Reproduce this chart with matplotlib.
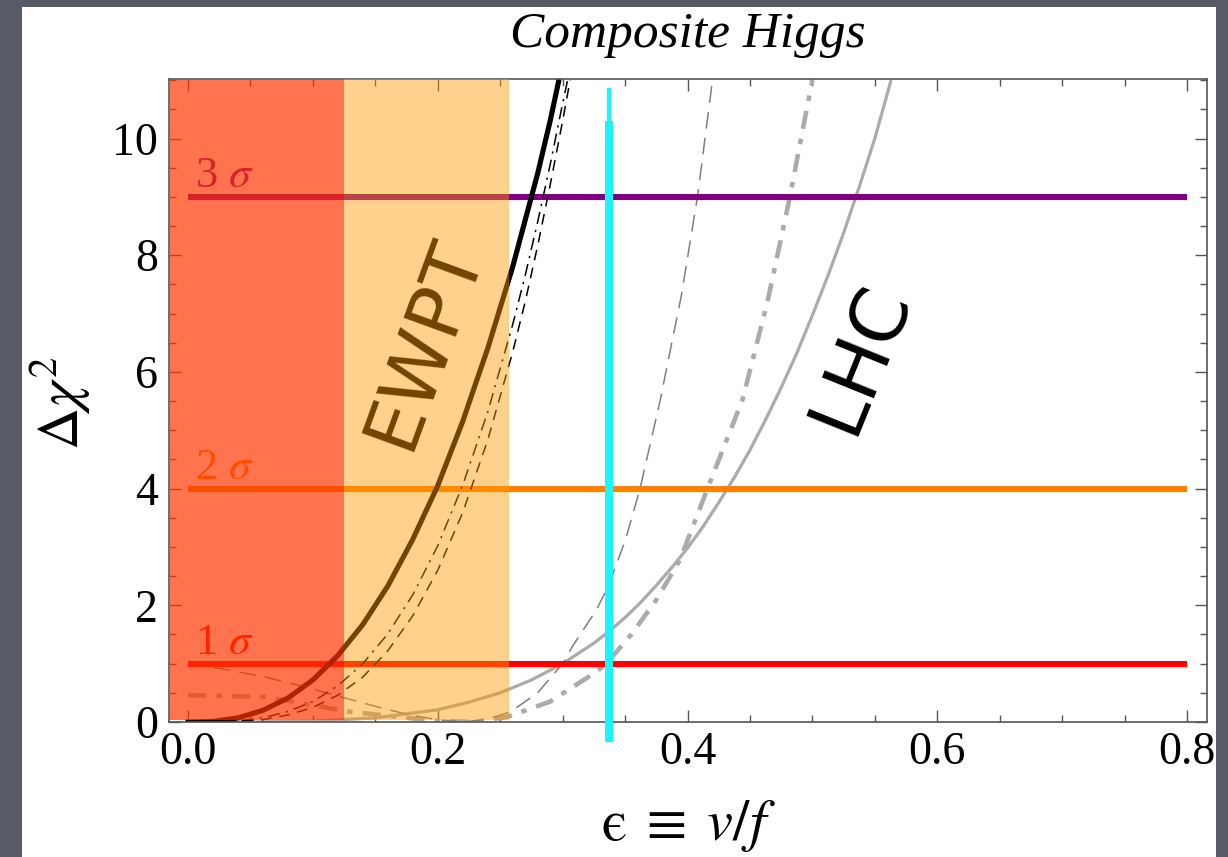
import matplotlib
matplotlib.use("Agg")
import matplotlib.pyplot as plt
from matplotlib.patches import Rectangle
from matplotlib.ticker import MultipleLocator, FormatStrFormatter

plt.rcParams['mathtext.fontset'] = 'stix'
plt.rcParams['font.family'] = ['Liberation Serif', 'DejaVu Serif']

# ---------------- data ----------------
# EWPT curves (black)
ewpt_solid_x = [0, 0.02, 0.04, 0.06, 0.08, 0.10, 0.12, 0.14, 0.16, 0.18, 0.20, 0.22, 0.23, 0.24, 0.25, 0.26, 0.27, 0.28, 0.29, 0.297]
ewpt_solid_y = [0, 0.01, 0.07, 0.20, 0.41, 0.72, 1.14, 1.67, 2.33, 3.13, 4.05, 5.15, 5.78, 6.40, 7.10, 7.80, 8.60, 9.40, 10.3, 11.0]
ewpt_dashdot_x = [0, 0.04, 0.06, 0.08, 0.10, 0.12, 0.14, 0.16, 0.18, 0.20, 0.22, 0.24, 0.26, 0.27, 0.28, 0.29, 0.30, 0.304]
ewpt_dashdot_y = [0, 0.02, 0.07, 0.18, 0.35, 0.62, 1.00, 1.51, 2.18, 3.02, 4.06, 5.31, 6.81, 7.65, 8.57, 9.55, 10.6, 11.0]
ewpt_dashed_x = [0, 0.04, 0.06, 0.08, 0.10, 0.12, 0.14, 0.16, 0.18, 0.20, 0.22, 0.24, 0.26, 0.27, 0.28, 0.29, 0.30, 0.306]
ewpt_dashed_y = [0, 0.01, 0.04, 0.12, 0.25, 0.46, 0.77, 1.22, 1.82, 2.60, 3.59, 4.83, 6.34, 7.20, 8.16, 9.20, 10.3, 11.0]

# LHC curves (gray)
lhc_solid_x = [0, 0.05, 0.10, 0.15, 0.20, 0.225, 0.25, 0.275, 0.30, 0.325, 0.3375, 0.35, 0.3625, 0.375,
               0.3875, 0.40, 0.4125, 0.425, 0.4375, 0.45, 0.4625, 0.475, 0.4875, 0.50, 0.5125,
               0.525, 0.5375, 0.55, 0.563]
lhc_solid_y = [0, 0.00, 0.015, 0.07, 0.21, 0.34, 0.50, 0.72, 1.00, 1.35, 1.56, 1.79, 2.05, 2.34,
               2.65, 2.98, 3.35, 3.76, 4.19, 4.66, 5.18, 5.73, 6.32, 6.97, 7.65,
               8.38, 9.17, 10.0, 11.0]
lhc_dashdot_x = [0, 0.062, 0.094, 0.131, 0.155, 0.18, 0.20, 0.23, 0.256, 0.29, 0.327, 0.335, 0.355, 0.375, 0.394, 0.416, 0.444, 0.464, 0.482, 0.49, 0.50]
lhc_dashdot_y = [0.46, 0.43, 0.31, 0.17, 0.12, 0.06, 0.02, 0.0, 0.09, 0.35, 0.86, 1.0, 1.5, 2.09, 2.78, 4.0, 5.52, 7.2, 9.0, 9.9, 11.0]
lhc_dashed_x = [0, 0.03, 0.062, 0.094, 0.131, 0.155, 0.178, 0.20, 0.22, 0.24, 0.258, 0.28, 0.30, 0.308, 0.327, 0.336, 0.35, 0.362, 0.378, 0.395, 0.408, 0.42]
lhc_dashed_y = [1.0, 0.9, 0.77, 0.60, 0.38, 0.24, 0.12, 0.04, 0.0, 0.05, 0.17, 0.50, 1.0, 1.3, 1.92, 2.3, 3.1, 4.0, 5.5, 7.3, 9.0, 11.0]

# confidence levels
sigma_levels = [1, 4, 9]
sigma_labels = [r'1 $\sigma$', r'2 $\sigma$', r'3 $\sigma$']
sigma_colors = ['#FF0000', '#FF8000', '#800080']

# excluded bands and marker line
band_dark = (-0.0152, 0.125)
band_light = (0.125, 0.257)
marker_x = 0.337

x_ticks = [0.0, 0.2, 0.4, 0.6, 0.8]
y_ticks = [0, 2, 4, 6, 8, 10]

# ---------------- figure ----------------
fig = plt.figure(figsize=(12.28, 8.57), dpi=100, facecolor='#575b66')
panel = Rectangle((22/1228, 0), (1216-22)/1228, 1 - 7/857,
                  transform=fig.transFigure, facecolor='white',
                  edgecolor='none', zorder=-10)
fig.patches.append(panel)

ax = fig.add_axes([169/1228, 1 - 722/857, (1207-169)/1228, (722-79)/857], zorder=1)
ax.set_facecolor('white')
ax.set_xlim(-0.0152, 0.816)
ax.set_ylim(0, 11.02)

# gray LHC curves
ax.plot(lhc_solid_x, lhc_solid_y, color='#ABABAB', lw=2.3, zorder=2, solid_capstyle='butt')
ax.plot(lhc_dashdot_x, lhc_dashdot_y, color='#ABABAB', lw=3.3, zorder=2,
        dashes=(4.0, 2.2, 1.2, 2.2))
ax.plot(lhc_dashed_x, lhc_dashed_y, color='#808080', lw=1.1, zorder=2, dashes=(11, 6))

# sigma lines
for lev, lab, col in zip(sigma_levels, sigma_labels, sigma_colors):
    ax.hlines(lev, 0, 0.8, colors=col, lw=4.4, zorder=2.3, capstyle='butt')
    ax.text(0.006, lev + 0.17, lab, color=col, fontsize=32, ha='left', va='baseline', zorder=2.3)

# black EWPT curves
ax.plot(ewpt_solid_x, ewpt_solid_y, color='black', lw=3.7, zorder=2.5)
ax.plot(ewpt_dashdot_x, ewpt_dashdot_y, color='black', lw=1.1, zorder=2.5,
        dashes=(8, 4, 1.5, 4))
ax.plot(ewpt_dashed_x, ewpt_dashed_y, color='black', lw=1.1, zorder=2.5, dashes=(7, 5))

# cyan marker line
ax.vlines(marker_x, -0.34, 10.3, colors='#1EF2FA', lw=5.8, zorder=3, clip_on=False)
ax.vlines(marker_x, 10.3, 10.87, colors='#1EF2FA', lw=3.0, zorder=3, clip_on=False)

# labels inside plot
ax.text(0.190, 6.50, 'EWPT', fontsize=55, family='DejaVu Sans', rotation=70,
        ha='center', va='center', color='black', zorder=2.6,
        rotation_mode='anchor')
ax.text(0.539, 6.25, 'LHC', fontsize=55, family='DejaVu Sans', rotation=68,
        ha='center', va='center', color='black', zorder=2.6,
        rotation_mode='anchor')

# shaded bands (semi-transparent, on top)
ax.axvspan(band_dark[0], band_dark[1], ymin=0.003, ymax=1, facecolor='#FF3600',
           alpha=0.69, edgecolor='none', zorder=4)
ax.axvspan(band_light[0], band_light[1], ymin=0.003, ymax=1, facecolor='#FF9900',
           alpha=0.45, edgecolor='none', zorder=4)

# axes styling
for sp in ax.spines.values():
    sp.set_color('#555555')
    sp.set_linewidth(1.2)
ax.set_xticks(x_ticks)
ax.set_yticks(y_ticks)
ax.xaxis.set_minor_locator(MultipleLocator(0.05))
ax.yaxis.set_minor_locator(MultipleLocator(0.5))
ax.xaxis.set_major_formatter(FormatStrFormatter('%.1f'))
ax.tick_params(which='both', direction='in', top=True, right=True, color='#555555', width=1.0)
ax.tick_params(which='major', length=8.6, labelsize=33)
ax.tick_params(which='minor', length=5)
ax.tick_params(axis='x', which='major', pad=7)
ax.tick_params(axis='y', which='major', pad=8)

fig.text(688/1228, 1 - 35/857, 'Composite Higgs', fontsize=37, style='italic',
         ha='center', va='center')
fig.text(688/1228, 1 - 826/857, '$\\mathrm{\u03f5}\\;\\equiv\\;v/f$', fontsize=42,
         ha='center', va='center')
fig.text(61/1228, 1 - 403/857, r'$\Delta\chi^2$', fontsize=42, rotation=90,
         ha='center', va='center')

fig.savefig('out.png', dpi=100, facecolor=fig.get_facecolor())
